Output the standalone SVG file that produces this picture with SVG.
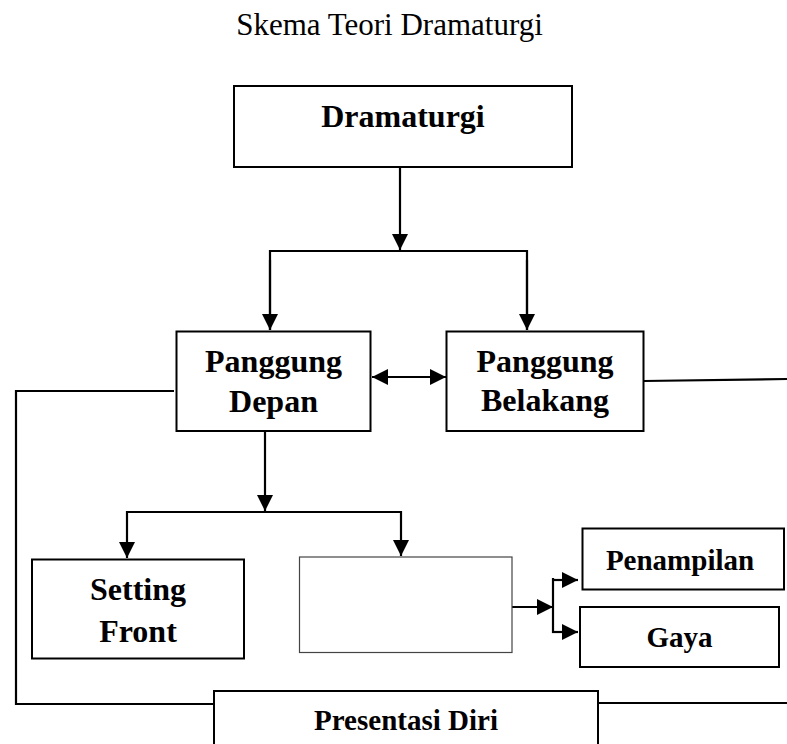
<svg xmlns="http://www.w3.org/2000/svg" width="787" height="744" viewBox="0 0 787 744">
<style>
.box{fill:#fff;stroke:#000;stroke-width:2}
.thin{fill:#fff;stroke:#444;stroke-width:1.2}
.lbl{font-family:"Liberation Serif","Times New Roman",serif;font-weight:bold;font-size:32px;fill:#000;text-anchor:middle}
.sm{font-size:29px}
.title{font-family:"Liberation Serif","Times New Roman",serif;font-size:31px;fill:#000;text-anchor:middle}
.ln{fill:none;stroke:#000;stroke-width:2.2}
</style>
<defs>
<marker id="ah" markerUnits="userSpaceOnUse" markerWidth="16" markerHeight="16" refX="16" refY="8" orient="auto-start-reverse" viewBox="0 0 16 16">
<path d="M0,0 L16,8 L0,16 z" fill="#000"/>
</marker>
</defs>
<rect width="787" height="744" fill="#fff"/>
<text class="title" x="389.5" y="35">Skema Teori Dramaturgi</text>

<g id="connectors">
<line class="ln" x1="400" y1="167" x2="400" y2="250" marker-end="url(#ah)"/>
<polyline class="ln" points="270,330 270,251 527,251 527,330"/>
<line class="ln" x1="270" y1="260" x2="270" y2="330" marker-end="url(#ah)"/>
<line class="ln" x1="527" y1="260" x2="527" y2="330" marker-end="url(#ah)"/>
<line class="ln" x1="372" y1="377" x2="446" y2="377" marker-start="url(#ah)" marker-end="url(#ah)"/>
<line class="ln" x1="644" y1="381" x2="787" y2="379"/>
<polyline class="ln" points="174,391 16,391 16,704 214,704"/>
<line class="ln" x1="598" y1="703" x2="787" y2="703"/>
<line class="ln" x1="265" y1="432" x2="265" y2="511" marker-end="url(#ah)"/>
<polyline class="ln" points="127,512 401,512"/>
<line class="ln" x1="127" y1="511" x2="127" y2="558" marker-end="url(#ah)"/>
<line class="ln" x1="401" y1="511" x2="401" y2="556" marker-end="url(#ah)"/>
<line class="ln" x1="512" y1="607" x2="553" y2="607" marker-end="url(#ah)"/>
<line class="ln" x1="553" y1="578" x2="553" y2="633"/>
<line class="ln" x1="552" y1="580" x2="578" y2="580" marker-end="url(#ah)"/>
<line class="ln" x1="552" y1="632" x2="578" y2="632" marker-end="url(#ah)"/>
</g>

<g id="dramaturgi">
<rect class="box" x="234" y="86" width="338" height="81"/>
<text class="lbl" x="403" y="127">Dramaturgi</text>
</g>
<g id="panggung-depan">
<rect class="box" x="176.5" y="331.5" width="194" height="99.5"/>
<text class="lbl" x="273.5" y="372">Panggung</text>
<text class="lbl" x="273.5" y="411.5">Depan</text>
</g>
<g id="panggung-belakang">
<rect class="box" x="446.5" y="331.5" width="197" height="99.5"/>
<text class="lbl" x="545" y="372">Panggung</text>
<text class="lbl" x="545" y="411">Belakang</text>
</g>
<g id="setting-front">
<rect class="box" x="32" y="559.5" width="212" height="99"/>
<text class="lbl" x="138" y="600">Setting</text>
<text class="lbl" x="138" y="641.5">Front</text>
</g>
<g id="blank">
<rect class="thin" x="299.5" y="557" width="212.5" height="95.5"/>
</g>
<g id="penampilan">
<rect class="box" x="582.5" y="528.5" width="201.5" height="61"/>
<text class="lbl sm" x="680" y="570">Penampilan</text>
</g>
<g id="gaya">
<rect class="box" x="580" y="607" width="199" height="60"/>
<text class="lbl sm" x="679.5" y="646.5">Gaya</text>
</g>
<g id="presentasi-diri">
<rect class="box" x="214" y="691" width="384" height="70"/>
<text class="lbl sm" x="406" y="730">Presentasi Diri</text>
</g>
</svg>
